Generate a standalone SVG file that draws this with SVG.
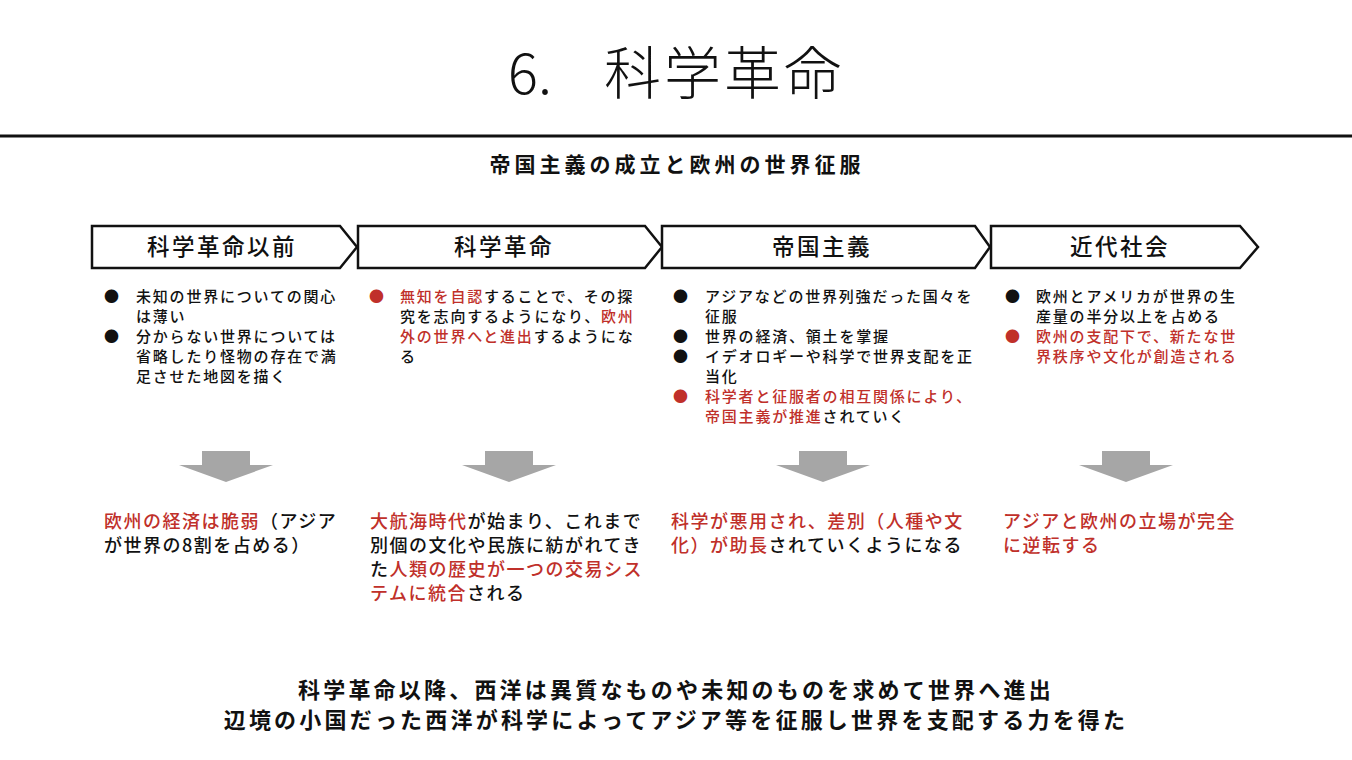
<svg xmlns="http://www.w3.org/2000/svg" width="1352" height="760" viewBox="0 0 1352 760">
<style>
text{font-family:"Noto Sans CJK JP","Noto Sans",sans-serif;fill:#111}
.h{font-size:22.5px;letter-spacing:2.5px;text-anchor:middle;font-weight:500}
.b{font-size:15px;letter-spacing:1.8px;font-weight:500}
.r{fill:#c0302a}
.res{font-size:18px;letter-spacing:1.5px;font-weight:500}
.ban{fill:#fff;stroke:#111;stroke-width:2.5}
.ga{fill:#a6a6a6}
.bt{font-size:22px;letter-spacing:3.2px;font-weight:700;text-anchor:middle}
</style>
<rect width="1352" height="760" fill="#fff"/>
<text x="508" y="94" style="font-size:56px;font-weight:300">6.</text>
<text x="604" y="94" style="font-size:57px;font-weight:300;letter-spacing:3px">科学革命</text>
<line x1="0" y1="136" x2="1352" y2="136" stroke="#111" stroke-width="3"/>
<text x="677" y="172" class="bt" style="font-size:21px;letter-spacing:4px">帝国主義の成立と欧州の世界征服</text>
<g id="n1">
<path class="ban" d="M92 226H340L357 247L340 268H92Z"/>
<text class="h" x="222" y="255">科学革命以前</text>
<text class="b"><tspan x="104" y="302">●</tspan><tspan x="136" y="302">未知の世界についての関心</tspan><tspan x="136" y="322">は薄い</tspan><tspan x="104" y="342">●</tspan><tspan x="136" y="342">分からない世界については</tspan><tspan x="136" y="362">省略したり怪物の存在で満</tspan><tspan x="136" y="382">足させた地図を描く</tspan></text>
</g>
<g id="n2">
<path class="ban" d="M358 226H645L662 247L645 268H358Z"/>
<text class="h" x="504" y="255">科学革命</text>
<text class="b"><tspan x="369" y="302" class="r">●</tspan><tspan x="400" y="302" class="r">無知を自認</tspan><tspan>することで、その探</tspan><tspan x="400" y="322">究を志向するようになり、</tspan><tspan class="r">欧州</tspan><tspan x="400" y="342" class="r">外の世界へと進出</tspan><tspan>するようにな</tspan><tspan x="400" y="362">る</tspan></text>
</g>
<g id="n3">
<path class="ban" d="M662 226H975L990 247L975 268H662Z"/>
<text class="h" x="822" y="255">帝国主義</text>
<text class="b"><tspan x="673" y="302">●</tspan><tspan x="705" y="302">アジアなどの世界列強だった国々を</tspan><tspan x="705" y="322">征服</tspan><tspan x="673" y="342">●</tspan><tspan x="705" y="342">世界の経済、領土を掌握</tspan><tspan x="673" y="362">●</tspan><tspan x="705" y="362">イデオロギーや科学で世界支配を正</tspan><tspan x="705" y="382">当化</tspan><tspan x="673" y="402" class="r">●</tspan><tspan x="705" y="402" class="r">科学者と征服者の相互関係により、</tspan><tspan x="705" y="422" class="r">帝国主義が推進</tspan><tspan>されていく</tspan></text>
</g>
<g id="n4">
<path class="ban" d="M991 226H1240L1258 247L1240 268H991Z"/>
<text class="h" x="1120" y="255">近代社会</text>
<text class="b"><tspan x="1005" y="302">●</tspan><tspan x="1036" y="302">欧州とアメリカが世界の生</tspan><tspan x="1036" y="322">産量の半分以上を占める</tspan><tspan x="1005" y="342" class="r">●</tspan><tspan x="1036" y="342" class="r">欧州の支配下で、新たな世</tspan><tspan x="1036" y="362" class="r">界秩序や文化が創造される</tspan></text>
</g>
<g id="connectors">
<path class="ga" d="M202 451H250V465H273L226 482L179 465H202Z"/>
<path class="ga" d="M485 451H533V465H556L509 482L462 465H485Z"/>
<path class="ga" d="M799 451H847V465H870L823 482L776 465H799Z"/>
<path class="ga" d="M1102 451H1150V465H1173L1126 482L1079 465H1102Z"/>
</g>
<g id="r1"><text class="res"><tspan x="104" y="528" class="r">欧州の経済は脆弱</tspan><tspan>（アジア</tspan><tspan x="104" y="552">が世界の8割を占める）</tspan></text></g>
<g id="r2"><text class="res"><tspan x="370" y="528" class="r">大航海時代</tspan><tspan>が始まり、これまで</tspan><tspan x="370" y="552">別個の文化や民族に紡がれてき</tspan><tspan x="370" y="576">た</tspan><tspan class="r">人類の歴史が一つの交易シス</tspan><tspan x="370" y="600" class="r">テムに統合</tspan><tspan>される</tspan></text></g>
<g id="r3"><text class="res"><tspan x="671" y="528" class="r">科学が悪用され、差別（人種や文</tspan><tspan x="671" y="552" class="r">化）が助長</tspan><tspan>されていくようになる</tspan></text></g>
<g id="r4"><text class="res"><tspan x="1003" y="528" class="r">アジアと欧州の立場が完全</tspan><tspan x="1003" y="552" class="r">に逆転する</tspan></text></g>
<text x="676" y="698" class="bt">科学革命以降、西洋は異質なものや未知のものを求めて世界へ進出</text>
<text x="676" y="728" class="bt">辺境の小国だった西洋が科学によってアジア等を征服し世界を支配する力を得た</text>
</svg>
